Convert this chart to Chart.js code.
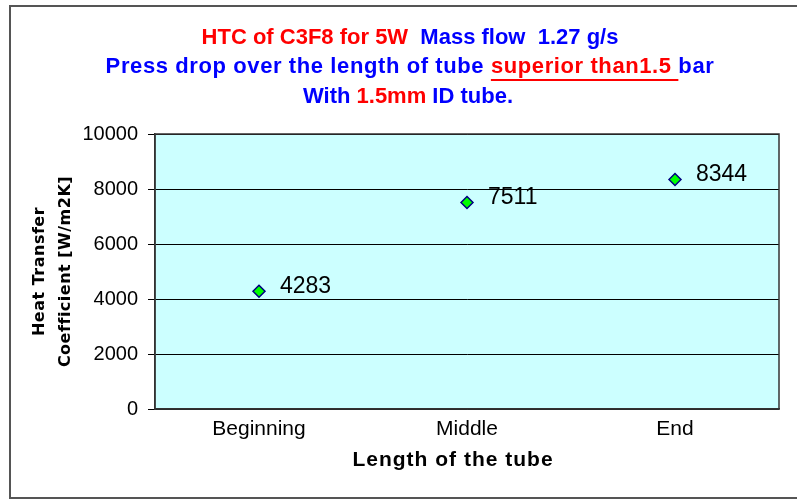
<!DOCTYPE html>
<html>
<head>
<meta charset="utf-8">
<script src="https://cdn.jsdelivr.net/npm/chart.js@4.4.0/dist/chart.umd.min.js"></script>
<style>
  html, body { margin: 0; padding: 0; background: #fff; }
  #wrap { width: 797px; height: 500px; }
</style>
</head>
<body>
<div id="wrap"><canvas id="htc"></canvas></div>
<script>
/* ---------- data ---------- */
const positions = ['Beginning', 'Middle', 'End'];
const htcValues = [4283, 7511, 8344];
const yTicks = [0, 2000, 4000, 6000, 8000, 10000];

/* title pieces: [text, colour, underline] */
const titleLine1 = [['HTC of C3F8 for 5W', '#ff0000'], ['  Mass flow  1.27 g/s', '#0000ff']];
const titleLine2 = [['Press drop over the length of tube ', '#0000ff'], ['superior than1.5 ', '#ff0000', true], ['bar', '#0000ff']];
const titleLine3 = [['With ', '#0000ff'], ['1.5mm', '#ff0000'], [' ID tube.', '#0000ff']];
const yTitle = ['Heat Transfer', 'Coefficient [W/m2K]'];
const xTitle = 'Length of the tube';

/* ---------- helpers ---------- */
function drawPieces(ctx, pieces, cx, y) {
  const widths = pieces.map(p => ctx.measureText(p[0]).width);
  const total = widths.reduce((a, b) => a + b, 0);
  let x = cx - total / 2;
  pieces.forEach((p, i) => {
    ctx.fillStyle = p[1];
    ctx.fillText(p[0], x, y);
    if (p[2]) {
      ctx.fillRect(x, y + 12, widths[i], 2);
    }
    x += widths[i];
  });
}

const decorPlugin = {
  id: 'decor',
  beforeDraw(chart) {
    const { ctx, chartArea: a } = chart;
    ctx.save();
    ctx.fillStyle = '#ccffff';
    ctx.fillRect(a.left, a.top, a.right - a.left, a.bottom - a.top);
    ctx.restore();
  },
  afterDraw(chart) {
    const { ctx, chartArea: a } = chart;
    ctx.save();

    // plot frame
    ctx.strokeStyle = '#333';
    ctx.lineWidth = 1.5;
    ctx.strokeRect(a.left, a.top, a.right - a.left, a.bottom - a.top);

    // outer frame
    ctx.strokeStyle = '#555';
    ctx.lineWidth = 2;
    ctx.strokeRect(10, 6, 800, 492);

    // value labels next to points
    const meta = chart.getDatasetMeta(0);
    ctx.font = '23px Arial, "Liberation Sans", sans-serif';
    ctx.fillStyle = '#000';
    ctx.textAlign = 'left';
    ctx.textBaseline = 'middle';
    meta.data.forEach((pt, i) => {
      ctx.fillText(String(htcValues[i]), pt.x + 21, pt.y - 5);
    });

    // main title
    ctx.font = 'bold 22px Arial, "Liberation Sans", sans-serif';
    ctx.textBaseline = 'middle';
    drawPieces(ctx, titleLine1, 410, 38);
    ctx.letterSpacing = '0.6px';
    drawPieces(ctx, titleLine2, 410, 67);
    ctx.letterSpacing = '0px';
    drawPieces(ctx, titleLine3, 408, 97);

    // x axis title
    ctx.fillStyle = '#000';
    ctx.textAlign = 'center';
    ctx.font = 'bold 21px Arial, "Liberation Sans", sans-serif';
    ctx.letterSpacing = '1px';
    ctx.fillText(xTitle, 453, 460);

    // y axis title (rotated)
    ctx.font = 'bold 16px "DejaVu Sans", Verdana, sans-serif';
    ctx.letterSpacing = '0.5px';
    const cy = (a.top + a.bottom) / 2;
    [40, 66].forEach((x, i) => {
      ctx.save();
      ctx.translate(x, cy);
      ctx.rotate(-Math.PI / 2);
      ctx.fillText(yTitle[i], 0, 0);
      ctx.restore();
    });
    ctx.letterSpacing = '0px';
    ctx.restore();
  }
};

new Chart(document.getElementById('htc'), {
  type: 'line',
  data: {
    labels: positions,
    datasets: [{
      label: 'HTC',
      data: htcValues,
      showLine: false,
      pointStyle: 'rectRot',
      pointRadius: 6,
      pointHoverRadius: 6,
      pointBackgroundColor: '#00ff00',
      pointBorderColor: '#000080',
      pointBorderWidth: 1.5
    }]
  },
  options: {
    responsive: true,
    maintainAspectRatio: false,
    animation: false,
    layout: { padding: { top: 134, right: 18, left: 0, bottom: 0 } },
    plugins: {
      legend: { display: false },
      title: { display: false },
      tooltip: { enabled: false }
    },
    scales: {
      x: {
        type: 'category',
        offset: true,
        grid: { display: false, drawTicks: false },
        border: { display: true, color: '#333', width: 1.5 },
        ticks: {
          color: '#000',
          padding: 8,
          font: { family: 'Arial, "Liberation Sans", sans-serif', size: 21 }
        },
        afterFit(scale) { scale.height = 91; }
      },
      y: {
        min: 0,
        max: 10000,
        afterBuildTicks(scale) { scale.ticks = yTicks.map(v => ({ value: v })); },
        grid: { color: '#000', lineWidth: 1, tickLength: 7 },
        border: { display: true, color: '#333', width: 1.5 },
        ticks: {
          color: '#000',
          padding: 10,
          callback: v => String(v),
          font: { family: 'Arial, "Liberation Sans", sans-serif', size: 20 }
        },
        afterFit(scale) { scale.width = 155; }
      }
    }
  },
  plugins: [decorPlugin]
});
</script>
</body>
</html>
